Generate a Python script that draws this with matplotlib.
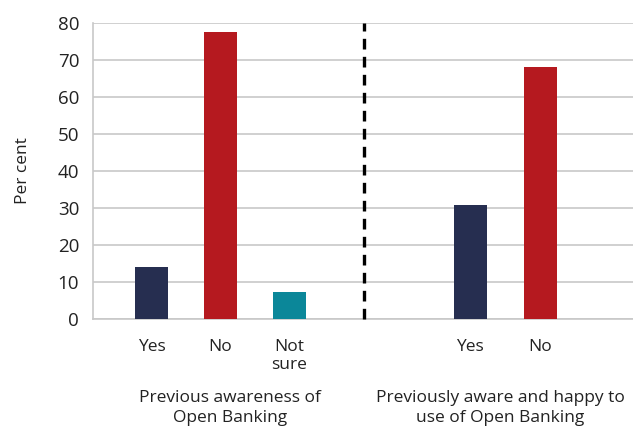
import matplotlib.pyplot as plt

# data
left_labels = ['Yes', 'No', 'Not\nsure']
left_values = [14.0, 77.6, 7.4]
right_labels = ['Yes', 'No']
right_values = [30.8, 68.2]
group_titles = ['Previous awareness of\nOpen Banking',
                'Previously aware and happy to\nuse of Open Banking']

navy = '#262e50'
red = '#b5191f'
teal = '#0b8799'
left_colors = [navy, red, teal]
right_colors = [navy, red]

plt.rcParams['font.family'] = ['Open Sans', 'DejaVu Sans']

fig = plt.figure(figsize=(6.33, 4.30), dpi=100)
ax = fig.add_axes([0.147, 0.258, 0.853, 0.6885])

left_x = [0, 1, 2]
right_x = [4.62, 5.64]
ax.bar(left_x, left_values, width=0.48, color=left_colors, zorder=3)
ax.bar(right_x, right_values, width=0.48, color=right_colors, zorder=3)

# divider between the two groups
ax.plot([3.08, 3.08], [0, 80], color='black', lw=2.4, ls=(0, (3.2, 2.2)), zorder=4,
        clip_on=False)

ax.set_xlim(-0.848, 6.98)
ax.set_ylim(0, 80)
ax.set_yticks(range(0, 81, 10))
ax.set_xticks(left_x + right_x)
ax.set_xticklabels(left_labels + right_labels, fontsize=12.5, color='#222222',
                   va='top', linespacing=1.2)
ax.tick_params(axis='y', length=0, labelsize=13.5, colors='#222222', pad=10)
ax.tick_params(axis='x', length=0, colors='#222222', pad=14)
ax.grid(axis='y', color='#c8c8c8', lw=1.2, zorder=0)

for s in ['top', 'right']:
    ax.spines[s].set_visible(False)
ax.spines['left'].set_color('#c8c8c8')
ax.spines['bottom'].set_color('#c8c8c8')
ax.spines['left'].set_linewidth(1.2)
ax.spines['bottom'].set_linewidth(1.2)

ax.set_ylabel('Per cent', fontsize=12.5, color='#222222', labelpad=19)

fig.text(230 / 633, 1 - 390 / 430, group_titles[0], ha='center', va='top',
         fontsize=12.5, color='#222222', linespacing=1.3)
fig.text(500 / 633, 1 - 390 / 430, group_titles[1], ha='center', va='top',
         fontsize=12.5, color='#222222', linespacing=1.3)

fig.savefig('out.png', dpi=100)
